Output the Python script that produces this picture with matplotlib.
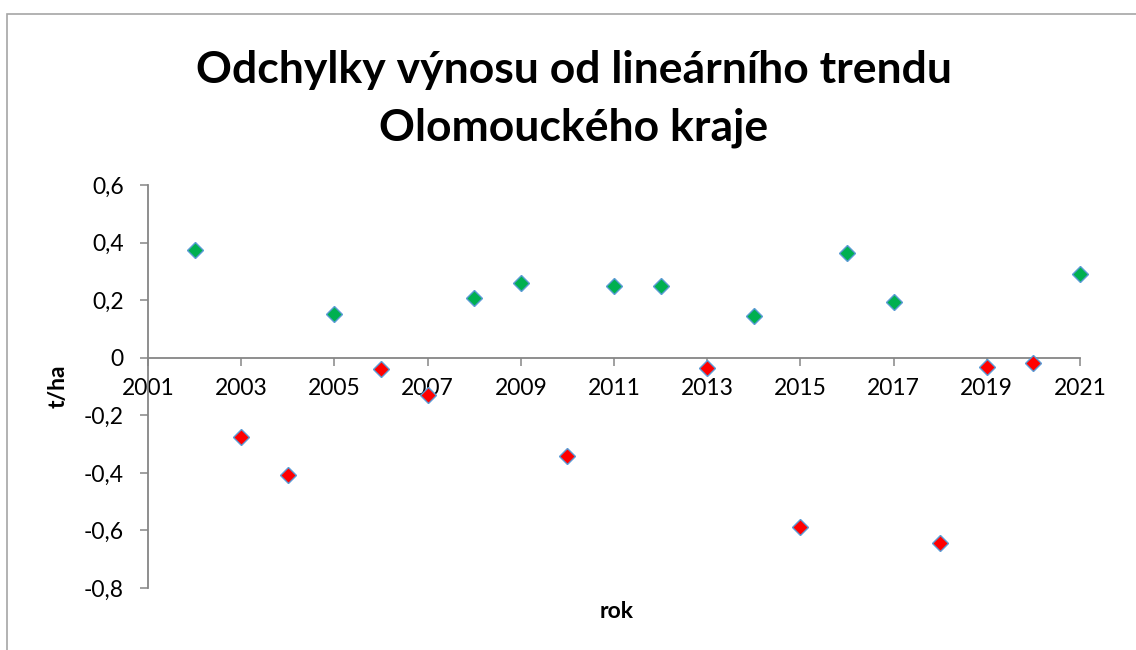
import matplotlib
matplotlib.use("Agg")
import matplotlib.pyplot as plt
from matplotlib.patches import Rectangle
from matplotlib.ticker import FixedLocator, FuncFormatter

years = [2002, 2003, 2004, 2005, 2006, 2007, 2008, 2009, 2010, 2011,
         2012, 2013, 2014, 2015, 2016, 2017, 2018, 2019, 2020, 2021]
deviations = [0.374, -0.274, -0.406, 0.152, -0.038, -0.129, 0.209, 0.260, -0.340, 0.248,
              0.248, -0.035, 0.144, -0.589, 0.364, 0.192, -0.642, -0.031, -0.018, 0.290]
x_ticks = [2001, 2003, 2005, 2007, 2009, 2011, 2013, 2015, 2017, 2019, 2021]
y_ticks = [-0.8, -0.6, -0.4, -0.2, 0.0, 0.2, 0.4, 0.6]
title_lines = ["Odchylky výnosu od lineárního trendu", "Olomouckého kraje"]
x_label = "rok"
y_label = "t/ha"

plt.rcParams['font.family'] = ['Lato', 'DejaVu Sans']

fig = plt.figure(figsize=(11.36, 6.5), dpi=100)
ax = fig.add_axes([148/1136, 1-588/650, (1080-148)/1136, (588-185)/650])

pos_x = [x for x, v in zip(years, deviations) if v >= 0]
pos_y = [v for v in deviations if v >= 0]
neg_x = [x for x, v in zip(years, deviations) if v < 0]
neg_y = [v for v in deviations if v < 0]

ax.plot(pos_x, pos_y, linestyle='none', marker='D', markersize=8.2,
        markerfacecolor='#00B050', markeredgecolor='#5B9BD5', markeredgewidth=1.0,
        zorder=3, clip_on=False)
ax.plot(neg_x, neg_y, linestyle='none', marker='D', markersize=8.2,
        markerfacecolor='#FF0000', markeredgecolor='#5B9BD5', markeredgewidth=1.0,
        zorder=3, clip_on=False)

ax.set_xlim(2001, 2021)
ax.set_ylim(-0.8, 0.6)

axis_col = '#868686'
for s in ['top', 'right']:
    ax.spines[s].set_visible(False)
ax.spines['left'].set_color(axis_col)
ax.spines['bottom'].set_color(axis_col)
ax.spines['left'].set_linewidth(1.3)
ax.spines['bottom'].set_linewidth(1.3)
ax.spines['bottom'].set_position(('data', 0))
ax.spines['bottom'].set_zorder(2)

ax.xaxis.set_major_locator(FixedLocator(x_ticks))
ax.yaxis.set_major_locator(FixedLocator(y_ticks))
ax.xaxis.set_major_formatter(FuncFormatter(lambda v, p: f"{int(round(v))}"))

def yfmt(v, p):
    if abs(v) < 1e-9:
        return "0"
    return f"{v:.1f}".replace('.', ',')

ax.yaxis.set_major_formatter(FuncFormatter(yfmt))
ax.tick_params(axis='x', direction='out', length=5.5, width=1.1, color=axis_col,
               labelsize=16.5, pad=9, labelcolor='black')
ax.tick_params(axis='y', direction='out', length=5.5, width=1.1, color=axis_col,
               labelsize=16.5, pad=12, labelcolor='black')

fig.text(574/1136, 1-70/650, title_lines[0], ha='center', va='center', fontsize=32,
         fontweight='bold')
fig.text(574/1136, 1-128/650, title_lines[1], ha='center', va='center', fontsize=32,
         fontweight='bold')
fig.text(58/1136, 1-386/650, y_label, rotation=90, ha='center', va='center',
         fontsize=16.5, fontweight='bold')
fig.text(617/1136, 1-611/650, x_label, ha='center', va='center',
         fontsize=16.5, fontweight='bold')

fig.patches.append(Rectangle((7/1136, -0.05), 1.1, 1-14/650+0.05, transform=fig.transFigure,
                             fill=False, edgecolor='#A6A6A6', linewidth=1.2))

fig.savefig("out.png", dpi=100)
